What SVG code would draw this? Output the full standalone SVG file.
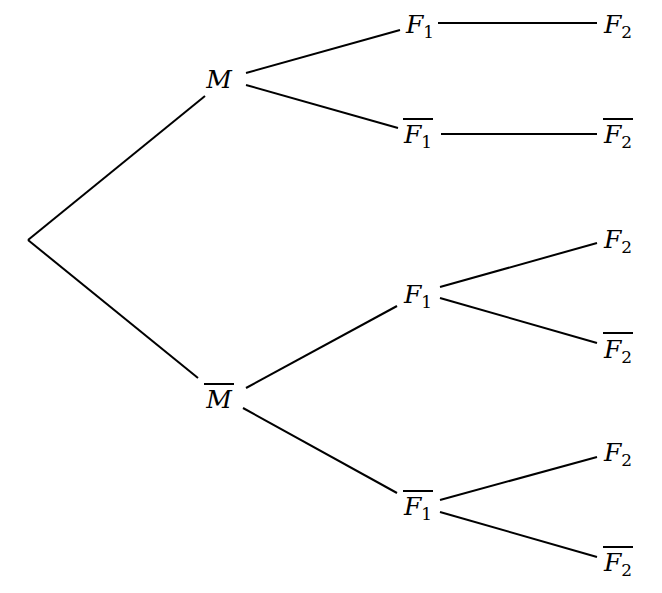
<svg xmlns="http://www.w3.org/2000/svg" width="662" height="593" viewBox="0 0 662 593">
<style>
text{font-family:"DejaVu Serif",serif;font-style:italic;font-size:25px;fill:#000;text-anchor:middle}
.s{font-size:17px;font-style:normal}
line{stroke:#000;stroke-width:2}
</style>
<rect width="662" height="593" fill="#fff"/>
<g id="connectors">
<line x1="28" y1="240" x2="205" y2="96"/>
<line x1="28" y1="240" x2="198" y2="378"/>
<line x1="246" y1="73" x2="400" y2="30"/>
<line x1="246" y1="85" x2="398" y2="128"/>
<line x1="438" y1="23" x2="597" y2="23"/>
<line x1="441" y1="134" x2="597" y2="134"/>
<line x1="246" y1="388" x2="397" y2="306"/>
<line x1="243" y1="408" x2="397" y2="493"/>
<line x1="440" y1="287" x2="597" y2="243"/>
<line x1="440" y1="298" x2="597" y2="343"/>
<line x1="440" y1="500" x2="597" y2="457"/>
<line x1="440" y1="512" x2="597" y2="557"/>
</g>
<g id="M"><text x="219" y="88">M</text></g>
<g id="Mbar"><text x="219" y="408">M</text><line x1="204" y1="384" x2="234" y2="384"/></g>
<g id="F1a"><text x="420" y="33">F<tspan class="s" dy="5">1</tspan></text></g>
<g id="F2a"><text x="618" y="33">F<tspan class="s" dy="5">2</tspan></text></g>
<g id="F1b"><text x="418" y="143">F<tspan class="s" dy="5">1</tspan></text><line x1="403" y1="119" x2="433" y2="119"/></g>
<g id="F2b"><text x="618" y="143">F<tspan class="s" dy="5">2</tspan></text><line x1="603" y1="119" x2="633" y2="119"/></g>
<g id="F1c"><text x="418" y="303">F<tspan class="s" dy="5">1</tspan></text></g>
<g id="F2c"><text x="618" y="248">F<tspan class="s" dy="5">2</tspan></text></g>
<g id="F2d"><text x="618" y="358">F<tspan class="s" dy="5">2</tspan></text><line x1="603" y1="333" x2="633" y2="333"/></g>
<g id="F1d"><text x="418" y="515">F<tspan class="s" dy="5">1</tspan></text><line x1="403" y1="491" x2="433" y2="491"/></g>
<g id="F2e"><text x="618" y="461">F<tspan class="s" dy="5">2</tspan></text></g>
<g id="F2f"><text x="618" y="571">F<tspan class="s" dy="5">2</tspan></text><line x1="603" y1="547" x2="633" y2="547"/></g>
</svg>
